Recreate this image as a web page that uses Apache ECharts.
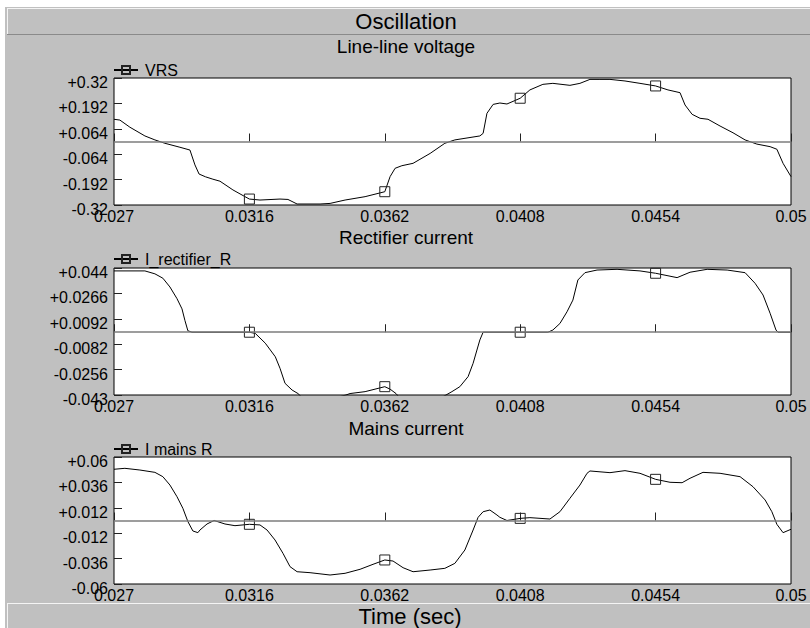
<!DOCTYPE html>
<html><head><meta charset="utf-8">
<script src="https://cdn.jsdelivr.net/npm/echarts@6/dist/echarts.min.js"></script>
<style>html,body{margin:0;padding:0;background:#fff}#c{width:810px;height:628px}</style>
</head><body><div id="c"></div>
<script>
// ---- data ----
const xTicks = [0.027, 0.0316, 0.0362, 0.0408, 0.0454, 0.05];
const markerTimes = [0.0316, 0.0362, 0.0408, 0.0454];

const vrsTicks = [-0.32, -0.192, -0.064, 0.064, 0.192, 0.32];
const vrsT = [0.027,0.0272,0.02754,0.02805,0.02839,0.02873,0.02924,0.02958,0.02975,0.02989,0.03011,0.03036,0.0306,0.03104,0.03145,0.0316,0.03196,0.03264,0.03291,0.03322,0.034,0.03434,0.03485,0.03553,0.0362,0.03638,0.03655,0.03678,0.03716,0.03774,0.03824,0.03858,0.03943,0.03954,0.03967,0.03988,0.04011,0.04035,0.0408,0.04113,0.04157,0.04191,0.04249,0.04283,0.04317,0.04351,0.04385,0.04436,0.04487,0.0454,0.04582,0.04623,0.0464,0.04664,0.04691,0.04718,0.04759,0.04803,0.04844,0.04884,0.04929,0.04952,0.04973,0.05];
const vrsV = [0.112,0.108,0.072,0.028,0.008,-0.009,-0.029,-0.043,-0.118,-0.164,-0.178,-0.19,-0.2,-0.244,-0.278,-0.29,-0.295,-0.29,-0.292,-0.315,-0.315,-0.312,-0.295,-0.278,-0.253,-0.177,-0.135,-0.122,-0.11,-0.06,-0.009,0.008,0.028,0.041,0.142,0.187,0.194,0.189,0.218,0.26,0.288,0.293,0.283,0.293,0.313,0.313,0.313,0.305,0.293,0.28,0.26,0.246,0.184,0.137,0.117,0.112,0.078,0.044,0.008,-0.013,-0.026,-0.039,-0.11,-0.177];

const irTicks = [-0.043, -0.0256, -0.0082, 0.0092, 0.0266, 0.044];
const irT = [0.027,0.02805,0.02839,0.02866,0.0289,0.02914,0.02931,0.02941,0.02951,0.02965,0.0316,0.0318,0.03214,0.03248,0.03264,0.03281,0.03305,0.03325,0.03345,0.0341,0.03488,0.03502,0.03553,0.0362,0.03638,0.03658,0.03675,0.038,0.03828,0.03848,0.03875,0.03903,0.0392,0.03933,0.03943,0.03954,0.0408,0.04174,0.04191,0.04215,0.04239,0.04259,0.04276,0.043,0.04341,0.04409,0.04487,0.0454,0.04613,0.04657,0.04715,0.04783,0.04844,0.04878,0.04905,0.04929,0.04949,0.04956,0.05];
const irV = [0.042,0.042,0.040,0.037,0.031,0.023,0.016,0.008,0.001,0,0,-0.0008,-0.0075,-0.0168,-0.0247,-0.035,-0.0396,-0.042,-0.046,-0.047,-0.043,-0.042,-0.0407,-0.0373,-0.039,-0.042,-0.046,-0.046,-0.043,-0.0407,-0.0373,-0.0304,-0.0213,-0.0122,-0.0053,0,0,0,0.0015,0.006,0.014,0.022,0.0358,0.0408,0.0426,0.0431,0.042,0.0404,0.0374,0.0411,0.0431,0.0426,0.0408,0.0335,0.0255,0.013,0.0015,0,0];

const imTicks = [-0.06, -0.036, -0.012, 0.012, 0.036, 0.06];
const imT = [0.027,0.02737,0.02788,0.02839,0.02866,0.0289,0.02914,0.02934,0.02951,0.02968,0.02985,0.02992,0.03016,0.0304,0.03077,0.03111,0.0316,0.03196,0.0322,0.03247,0.03274,0.03298,0.03322,0.03366,0.03434,0.03485,0.03536,0.0358,0.0362,0.03648,0.03682,0.03716,0.03774,0.03824,0.03858,0.03892,0.0392,0.03937,0.03954,0.03977,0.04001,0.04011,0.04035,0.0408,0.04113,0.04181,0.04215,0.04249,0.04283,0.04307,0.04317,0.04385,0.04436,0.04487,0.0454,0.04589,0.0463,0.04657,0.04701,0.04759,0.04827,0.04871,0.04912,0.04935,0.04952,0.04973,0.05];
const imV = [0.0484,0.0493,0.0477,0.0455,0.0414,0.0335,0.0225,0.0115,-0.001,-0.0099,-0.0115,-0.009,-0.0033,0,-0.0033,-0.0049,-0.0036,-0.0042,-0.009,-0.0184,-0.031,-0.0436,-0.0484,-0.0493,-0.0515,-0.0499,-0.0461,-0.0414,-0.0373,-0.0383,-0.0446,-0.0484,-0.0468,-0.0452,-0.0405,-0.0279,-0.009,0.003,0.0083,0.0099,0.0052,0.003,0,0.002,0.0027,0.0014,0.0083,0.021,0.0335,0.0446,0.0468,0.0452,0.0471,0.0446,0.0389,0.0361,0.0357,0.0399,0.0455,0.0446,0.0414,0.0319,0.0194,0.0083,-0.0036,-0.0115,-0.0083];

const panels = [
  {name: 'VRS', title: 'Line-line voltage', t: vrsT, v: vrsV, ticks: vrsTicks},
  {name: 'I_rectifier_R', title: 'Rectifier current', t: irT, v: irV, ticks: irTicks},
  {name: 'I mains R', title: 'Mains current', t: imT, v: imV, ticks: imTicks}
];

// ---- layout ----
const FONT = 'Liberation Sans, Arial, sans-serif';
const gridTops = [78, 268, 457];
const titleYs = [46, 237, 428];
const legendTops = [62, 251, 441];
const GL = 114, GW = 677, GH = 127;

function fmtY(v) { const n = parseFloat(v.toFixed(4)); return '{s|' + (n > 0 ? '+' : '') + n + '}'; }
function fmtX(v) { return String(parseFloat(v.toFixed(4))); }

const option = {
  backgroundColor: '#ffffff',
  animation: false,
  graphic: [],
  grid: [], xAxis: [], yAxis: [], series: [], legend: []
};

option.graphic.push(
  {type: 'rect', shape: {x: 5, y: 7, width: 805, height: 621}, style: {fill: '#c0c0c0'}, z: -10, silent: true},
  {type: 'line', shape: {x1: 7, y1: 8.5, x2: 810, y2: 8.5}, style: {stroke: '#f4f4f4', lineWidth: 1}, silent: true},
  {type: 'line', shape: {x1: 7.5, y1: 8, x2: 7.5, y2: 34}, style: {stroke: '#f4f4f4', lineWidth: 1}, silent: true},
  {type: 'line', shape: {x1: 7, y1: 34.5, x2: 810, y2: 34.5}, style: {stroke: '#8a8a8a', lineWidth: 1}, silent: true},
  {type: 'line', shape: {x1: 7, y1: 603.5, x2: 810, y2: 603.5}, style: {stroke: '#f4f4f4', lineWidth: 1}, silent: true},
  {type: 'line', shape: {x1: 7.5, y1: 603, x2: 7.5, y2: 628}, style: {stroke: '#f4f4f4', lineWidth: 1}, silent: true},
  {type: 'text', x: 406, y: 21, style: {text: 'Oscillation', align: 'center', verticalAlign: 'middle', fontSize: 22, fontFamily: FONT, fill: '#000'}, silent: true},
  {type: 'text', x: 410, y: 616, style: {text: 'Time (sec)', align: 'center', verticalAlign: 'middle', fontSize: 22, fontFamily: FONT, fill: '#000'}, silent: true}
);

panels.forEach((p, i) => {
  option.graphic.push({type: 'text', x: 406, y: titleYs[i], style: {text: p.title, align: 'center', verticalAlign: 'middle', fontSize: 19, fontFamily: FONT, fill: '#000'}, silent: true});
  option.grid.push({left: GL, top: gridTops[i], width: GW, height: GH, show: true, backgroundColor: '#ffffff', borderColor: '#000', borderWidth: 1, containLabel: false});
  option.xAxis.push({
    type: 'value', gridIndex: i, min: 0.027, max: 0.05,
    axisLine: {show: false}, splitLine: {show: false},
    axisTick: {show: true, inside: true, length: 8, customValues: xTicks, lineStyle: {color: '#222'}},
    axisLabel: {customValues: xTicks, formatter: fmtX, margin: 3, fontSize: 16, color: '#000', fontFamily: FONT}
  });
  option.yAxis.push({
    type: 'value', gridIndex: i, min: p.ticks[0], max: p.ticks[p.ticks.length - 1],
    axisLine: {show: false}, splitLine: {show: false},
    axisTick: {show: true, inside: true, length: 8, customValues: p.ticks, lineStyle: {color: '#222'}},
    axisLabel: {customValues: p.ticks, formatter: fmtY, margin: 6, color: '#000',
      rich: {s: {fontSize: 16, fontFamily: FONT, color: '#000', padding: [9, 0, 0, 0]}}}
  });
  const data = p.t.map((t, k) => markerTimes.includes(t)
    ? {value: [t, p.v[k]]}
    : {value: [t, p.v[k]], symbol: 'none'});
  option.series.push({
    name: p.name, type: 'line', xAxisIndex: i, yAxisIndex: i, data: data,
    symbol: 'rect', symbolSize: 10, showSymbol: true, clip: true,
    lineStyle: {color: '#000', width: 1},
    itemStyle: {color: 'rgba(0,0,0,0)', borderColor: '#222', borderWidth: 1},
    emphasis: {disabled: true},
    markLine: {silent: true, symbol: 'none', label: {show: false},
      lineStyle: {color: '#7c7c7c', width: 1.5, type: 'solid'},
      data: [{yAxis: 0}]},
    z: 3
  });
  option.legend.push({
    data: [p.name], left: 113, top: legendTops[i], padding: 0,
    itemWidth: 24, itemHeight: 10, itemGap: 0, selectedMode: false,
    textStyle: {fontSize: 16, fontFamily: FONT, color: '#000', padding: [0, 0, 0, 2]}
  });
});

const chart = echarts.init(document.getElementById('c'), null, {renderer: 'svg'});
chart.setOption(option);
</script></body></html>
